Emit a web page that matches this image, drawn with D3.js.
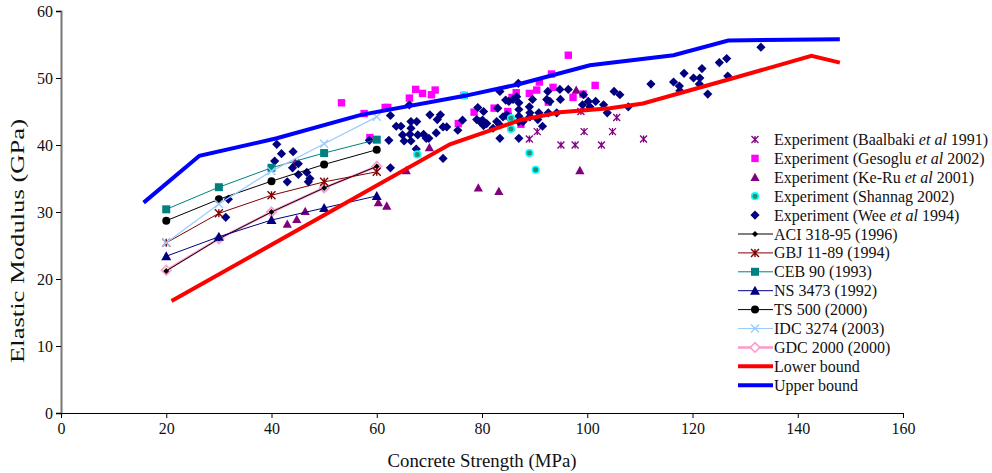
<!DOCTYPE html>
<html>
<head>
<meta charset="utf-8">
<script src="https://cdn.jsdelivr.net/npm/d3@7"></script>
<style>
  body { margin: 0; background: #fff; }
  svg text { font-family: "Times New Roman", "Liberation Serif", Tinos, "DejaVu Serif", serif; fill: #111; }
</style>
</head>
<body>
<script>
// Experimental data [fc (MPa), E (GPa)]
var baalbaki = [[89.0,40.9],[90.5,42.0],[95.0,40.0],[97.7,40.0],[98.8,45.0],[99.4,42.0],[102.7,40.0],[104.8,42.0],[105.6,44.1],[110.7,40.9]];
var gesoglu = [[53.3,46.3],[57.6,44.7],[61.6,45.6],[62.1,45.6],[58.7,41.1],[66.2,47.0],[67.4,48.3],[68.7,47.7],[70.4,47.5],[71.1,48.2],
  [76.6,47.4],[75.5,43.2],[78.5,44.9],[82.3,45.5],[84.9,45.0],[85.0,44.3],[86.5,47.8],[85.7,47.1],[89.0,47.7],[90.4,48.2],
  [90.9,49.4],[93.2,50.6],[93.5,48.6],[92.6,46.4],[96.4,53.4],[97.3,47.1],[99.2,47.6],[101.5,48.9],[87.4,43.1]];
var keRu = [[43.0,28.2],[44.8,28.9],[46.4,30.1],[44.5,37.4],[60.3,31.4],[61.9,30.9],[65.6,36.2],[70.0,39.6],[79.3,33.6],[83.2,33.1],[98.6,36.2],[97.9,48.2]];
var shannag = [[76.6,47.4],[67.7,38.6],[85.5,44.0],[85.5,42.4],[89.0,38.8],[90.2,36.3]];
var wee = [[31.8,31.9],[31.3,29.2],[41.0,40.1],[41.9,38.7],[44.1,39.0],[40.6,37.6],[44.0,36.6],[45.1,37.2],[45.1,35.6],[46.7,35.9],
  [43.0,34.5],[47.3,35.0],[47.0,34.5],[58.6,40.7],[62.3,40.7],[62.6,36.6],[66.2,46.0],[62.6,44.4],[63.7,42.8],[64.6,42.8],
  [66.5,43.5],[67.6,43.5],[66.5,42.5],[64.9,41.5],[66.3,41.6],[67.8,41.5],[65.2,40.6],[66.5,40.6],[68.9,41.6],[69.4,41.0],
  [69.9,41.0],[67.5,39.4],[70.1,44.5],[72.1,44.5],[71.5,43.8],[71.3,41.8],[72.6,42.7],[73.3,42.7],[75.4,42.2],[76.3,43.7],
  [72.6,38.0],[79.2,45.6],[80.3,45.0],[79.0,43.8],[80.1,43.7],[80.3,42.9],[79.6,43.5],[80.9,43.2],[83.4,48.0],[86.9,49.2],
  [83.0,45.5],[84.5,46.7],[85.1,46.5],[85.9,46.8],[86.6,47.2],[87.0,46.3],[87.0,45.3],[87.0,44.3],[87.0,43.5],[84.0,44.2],
  [84.7,44.5],[85.6,43.7],[82.8,43.5],[83.4,43.0],[82.1,42.5],[83.4,41.0],[87.0,41.0],[87.8,43.5],[89.0,45.7],[89.1,44.8],
  [89.1,44.2],[89.6,46.8],[90.6,43.8],[90.8,44.8],[91.5,42.8],[92.3,46.8],[92.6,44.8],[94.2,44.8],[92.5,48.0],[94.8,48.3],
  [96.4,48.3],[94.9,46.8],[92.9,46.5],[99.1,46.0],[100.2,46.5],[101.6,46.5],[100.5,45.7],[99.3,47.5],[103.1,46.0],[103.8,44.8],
  [105.1,48.0],[106.2,47.5],[107.8,45.7],[112.1,49.1],[116.4,49.4],[117.5,48.8],[117.6,48.1],[118.4,50.7],[120.2,50.0],[121.4,50.0],
  [121.3,49.1],[121.8,51.4],[122.9,47.6],[125.1,52.3],[126.5,52.9],[126.7,50.3],[133.0,54.6]];

// Code predictions at fc = 20..60 MPa
var fcModel = [20, 30, 40, 50, 60];
var aci = [21.2, 26.0, 30.0, 33.6, 36.8];
var gbj = [25.4, 29.8, 32.5, 34.5, 36.0];
var ceb = [30.4, 33.7, 36.6, 38.8, 40.8];
var ns3473 = [23.4, 26.3, 28.8, 30.6, 32.4];
var ts500 = [28.7, 31.9, 34.6, 37.1, 39.3];
var idc = [25.4, 31.2, 36.1, 40.2, 44.2];
var gdc = [21.3, 26.0, 30.0, 33.6, 36.8];

// Bounds
var lowerBound = [[21,16.7],[73.9,40.1],[87.2,43.7],[94.8,44.9],[104.3,45.5],[110.6,46.2],[126.5,49.7],[142.6,53.3],[148,52.3]];
var upperBound = [[15.7,31.4],[26.3,38.4],[41,41.0],[57,44.5],[76.5,47.3],[86.6,49.0],[100.5,51.9],[116.4,53.4],[126.8,55.6],[148,55.8]];

var xTicks = [0, 20, 40, 60, 80, 100, 120, 140, 160];
var yTicks = [0, 10, 20, 30, 40, 50, 60];

var W = 992, H = 473;
var margin = {top: 11, left: 61};
var width = 842, height = 402;
var serif = '"Times New Roman", "Liberation Serif", Tinos, "DejaVu Serif", serif';

var svg = d3.select("body").append("svg")
  .attr("width", W).attr("height", H);
var g = svg.append("g").attr("transform", "translate(" + margin.left + "," + margin.top + ")");

var x = d3.scaleLinear().domain([0, 160]).range([0, width]);
var y = d3.scaleLinear().domain([0, 60]).range([height, 0]);

// custom marker shapes, size = half width in px
var diamond = { draw: function(c, r) { c.moveTo(0, -r); c.lineTo(r, 0); c.lineTo(0, r); c.lineTo(-r, 0); c.closePath(); } };
var square = { draw: function(c, r) { c.rect(-r, -r, 2 * r, 2 * r); } };
var triangle = { draw: function(c, r) { c.moveTo(0, -r); c.lineTo(r, r * 0.8); c.lineTo(-r, r * 0.8); c.closePath(); } };
var star = { draw: function(c, r) {
  c.moveTo(-r, -r); c.lineTo(r, r); c.moveTo(-r, r); c.lineTo(r, -r); c.moveTo(0, -r); c.lineTo(0, r); } };
var cross = { draw: function(c, r) { c.moveTo(-r, -r); c.lineTo(r, r); c.moveTo(-r, r); c.lineTo(r, -r); } };
var circle = { draw: function(c, r) { c.moveTo(r, 0); c.arc(0, 0, r, 0, 2 * Math.PI); } };

// axes
var yAxis = g.append("g").call(d3.axisLeft(y).tickValues(yTicks).tickSize(5).tickPadding(3));
yAxis.select(".domain").attr("stroke", "#777").attr("stroke-width", 2);
var xAxis = g.append("g").attr("transform", "translate(0," + height + ")")
  .call(d3.axisBottom(x).tickValues(xTicks).tickSize(5).tickPadding(5));
g.selectAll(".tick text").attr("font-size", 16).style("font-family", serif).attr("fill", "#111");

svg.append("text").attr("x", 482).attr("y", 467).attr("text-anchor", "middle")
  .attr("font-size", 18).attr("textLength", 189).attr("lengthAdjust", "spacingAndGlyphs")
  .text("Concrete Strength (MPa)");
svg.append("text").attr("transform", "translate(24,241) rotate(-90)").attr("text-anchor", "middle")
  .attr("font-size", 18).attr("textLength", 244).attr("lengthAdjust", "spacingAndGlyphs")
  .text("Elastic Modulus (GPa)");

function marks(data, type, r, fill, stroke, sw) {
  g.append("g").selectAll("path").data(data).enter().append("path")
    .attr("transform", function(d) { return "translate(" + x(d[0]) + "," + y(d[1]) + ")"; })
    .attr("d", d3.symbol(type, r))
    .attr("fill", fill).attr("stroke", stroke || "none").attr("stroke-width", sw || 1);
}

// experiments
marks(baalbaki, star, 3.5, "none", "#800080", 1.3);
marks(gesoglu, square, 3.7, "#ff00ff");
marks(keRu, triangle, 4.6, "#800080");
marks(wee, diamond, 4.6, "#000080");
marks(shannag, circle, 3.3, "#2e8b6e", "#00ffff", 1.6);

// code lines
var line = d3.line().x(function(d) { return x(d[0]); }).y(function(d) { return y(d[1]); });
function model(vals, color, lw, type, r, fill, stroke, sw) {
  var pts = fcModel.map(function(f, i) { return [f, vals[i]]; });
  g.append("path").datum(pts).attr("d", line).attr("fill", "none").attr("stroke", color).attr("stroke-width", lw);
  marks(pts, type, r, fill, stroke, sw);
}
model(gdc, "#ff99cc", 2.5, diamond, 4.8, "#fff", "#ff99cc", 1.6);
model(aci, "#000", 1, diamond, 3, "#000");
model(gbj, "#800000", 1, star, 4, "none", "#800000", 1.4);
model(ceb, "#008080", 1, square, 4, "#008080");
model(ns3473, "#000080", 1, triangle, 5, "#000080");
model(ts500, "#000", 1, circle, 4, "#000");
model(idc, "#99ccff", 1.2, cross, 4, "none", "#99ccff", 1.4);

// bounds
g.append("path").datum(lowerBound).attr("d", line).attr("fill", "none").attr("stroke", "#ff0000").attr("stroke-width", 4);
g.append("path").datum(upperBound).attr("d", line).attr("fill", "none").attr("stroke", "#0000ff").attr("stroke-width", 4);

// legend
var legendItems = [
  {pre: "Experiment (Baalbaki ", it: "et al", post: " 1991)", type: star, r: 3.5, fill: "none", stroke: "#800080", sw: 1.3},
  {pre: "Experiment (Gesoglu ", it: "et al", post: " 2002)", type: square, r: 3.7, fill: "#ff00ff"},
  {pre: "Experiment (Ke-Ru ", it: "et al", post: " 2001)", type: triangle, r: 4.6, fill: "#800080"},
  {pre: "Experiment (Shannag 2002)", type: circle, r: 3.3, fill: "#2e8b6e", stroke: "#00ffff", sw: 1.6},
  {pre: "Experiment (Wee ", it: "et al", post: " 1994)", type: diamond, r: 4.6, fill: "#000080"},
  {pre: "ACI 318-95 (1996)", line: "#000", lw: 1, type: diamond, r: 3, fill: "#000"},
  {pre: "GBJ 11-89 (1994)", line: "#800000", lw: 1, type: star, r: 4, fill: "none", stroke: "#800000", sw: 1.4},
  {pre: "CEB 90 (1993)", line: "#008080", lw: 1, type: square, r: 4, fill: "#008080"},
  {pre: "NS 3473 (1992)", line: "#000080", lw: 1, type: triangle, r: 5, fill: "#000080"},
  {pre: "TS 500 (2000)", line: "#000", lw: 1, type: circle, r: 4, fill: "#000"},
  {pre: "IDC 3274 (2003)", line: "#99ccff", lw: 1.2, type: cross, r: 4, fill: "none", stroke: "#99ccff", sw: 1.4},
  {pre: "GDC 2000 (2000)", line: "#ff99cc", lw: 2.5, type: diamond, r: 4.8, fill: "#fff", stroke: "#ff99cc", sw: 1.6},
  {pre: "Lower bound", line: "#ff0000", lw: 4},
  {pre: "Upper bound", line: "#0000ff", lw: 4}
];

var lg = svg.append("g");
legendItems.forEach(function(d, i) {
  var cy = 139.5 + i * 18.9;
  if (d.line) lg.append("line").attr("x1", 738).attr("x2", 773).attr("y1", cy).attr("y2", cy)
    .attr("stroke", d.line).attr("stroke-width", d.lw);
  if (d.type) lg.append("path").attr("transform", "translate(755," + cy + ")")
    .attr("d", d3.symbol(d.type, d.r)).attr("fill", d.fill).attr("stroke", d.stroke || "none").attr("stroke-width", d.sw || 1);
  var t = lg.append("text").attr("x", 774).attr("y", cy + 5.5).attr("font-size", 16);
  t.append("tspan").text(d.pre);
  if (d.it) {
    t.append("tspan").attr("font-style", "italic").text(d.it);
    t.append("tspan").text(d.post);
  }
});
</script>
</body>
</html>
